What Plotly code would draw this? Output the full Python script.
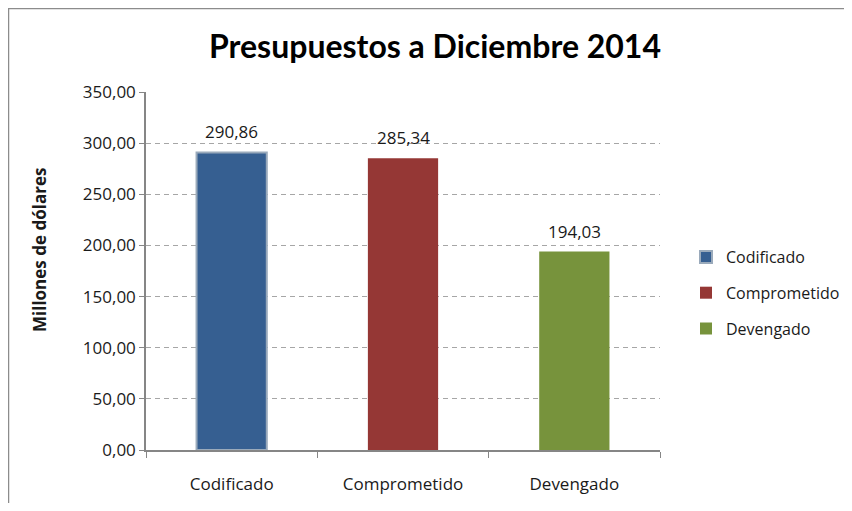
import plotly.graph_objects as go

categories = ["Codificado", "Comprometido", "Devengado"]
values = [290.86, 285.34, 194.03]
colors = ["#365F91", "#953735", "#77933C"]
line_colors = ["#9AAABB", "#953735", "#77933C"]
line_widths = [2, 0, 0]
y_ticks = [0, 50, 100, 150, 200, 250, 300, 350]

# page body has an 8px margin; figure drawn at (8, 8)
OFF = 8
W, H = 852 - OFF, 511 - 2 * OFF
L = 146 - OFF
T = 92 - OFF
R = W - (660 - OFF)
B = H - (450 - OFF)
pw, ph = W - L - R, H - T - B

fig = go.Figure()
for i, (c, v) in enumerate(zip(categories, values)):
    fig.add_trace(go.Bar(
        x=[c], y=[v], name=c,
        marker=dict(color=colors[i], line=dict(color=line_colors[i], width=line_widths[i])),
        width=0.41,
        legendgroup=c,
    ))
    fig.add_annotation(
        x=c, y=v, xref="x", yref="y", text=f"{v:.2f}".replace(".", ","),
        showarrow=False, yanchor="bottom", yshift=7,
        font=dict(size=17, family="Open Sans", color="#1a1a1a"),
    )

fig.update_layout(
    width=W, height=H,
    margin=dict(l=L, r=R, t=T, b=B, autoexpand=False),
    paper_bgcolor="white", plot_bgcolor="white",
    separators=",.",
    barmode="overlay",
    showlegend=True,
    title=dict(text="<b>Presupuestos a Diciembre 2014</b>", x=(435 - OFF) / W, xanchor="center",
               y=1 - (47 - OFF) / H, yanchor="middle",
               font=dict(family="Lato", size=32, color="black")),
    legend=dict(x=(686 - OFF - L) / pw, xanchor="left", y=(450 - 240) / ph, yanchor="top",
                font=dict(family="Open Sans", size=16, color="#1a1a1a"),
                tracegroupgap=12, itemwidth=30, bgcolor="rgba(0,0,0,0)"),
    font=dict(family="Open Sans", color="#1a1a1a"),
)

fig.update_xaxes(
    showline=True, linecolor="#868686", linewidth=1.5,
    ticks="outside", tickson="boundaries", ticklen=6, tickcolor="#868686",
    ticklabelstandoff=18,
    tickfont=dict(size=17, family="Open Sans", color="#1a1a1a"),
    showgrid=False,
)
fig.update_yaxes(
    range=[0, 350], tickvals=y_ticks, tickformat=".2f",
    showline=True, linecolor="#868686", linewidth=1.5,
    ticks="outside", ticklen=5, tickcolor="#868686",
    tickfont=dict(size=17, family="Open Sans", color="#1a1a1a"),
    showgrid=True, gridcolor="#A6A6A6", gridwidth=1, griddash="5px,4px",
    zeroline=False,
)

fig.add_annotation(
    text="<b>Millones de dólares</b>", textangle=-90,
    xref="paper", yref="paper",
    x=(39 - 146) / pw, y=(450 - 250) / ph, xanchor="center", yanchor="middle",
    showarrow=False, font=dict(size=17, family="Open Sans", color="#1a1a1a"),
)

fig.add_shape(
    type="rect", xref="paper", yref="paper",
    x0=(0.5 - L) / pw, y0=-1, x1=2, y1=1 + (T - 0.5) / ph,
    line=dict(color="#8C8C8C", width=1.5), layer="below",
)

fig.write_html("out.html")
